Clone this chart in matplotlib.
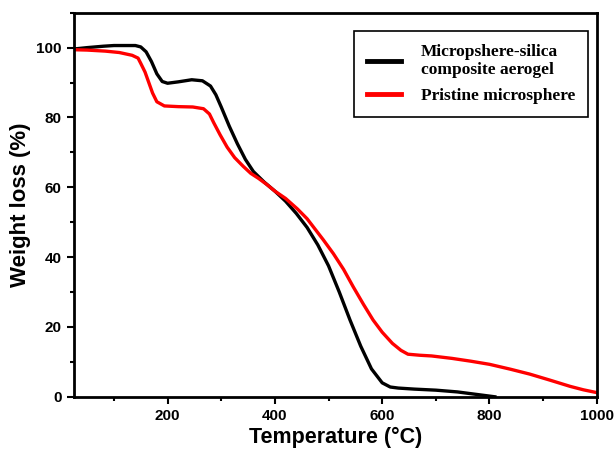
import matplotlib.pyplot as plt
from matplotlib.ticker import MultipleLocator

# composite aerogel (black)
temp_a = [25, 50, 80, 100, 140, 150, 160, 170, 180, 190, 200, 220, 245, 265, 280,
          290, 300, 315, 330, 345, 360, 380, 400, 420, 440, 460, 480, 500,
          520, 540, 560, 580, 600, 615, 630, 660, 700, 740, 770, 800, 810]
wt_a = [99.6, 100.0, 100.4, 100.6, 100.6, 100.2, 98.8, 96.0, 92.5, 90.3, 89.8, 90.2,
        90.8, 90.5, 89.0, 86.5, 83.0, 77.5, 72.5, 68.0, 64.5, 61.5, 58.9, 56.0,
        52.5, 48.5, 43.5, 37.5, 30.0, 22.0, 14.5, 8.0, 4.0, 2.8, 2.5, 2.2, 1.9,
        1.4, 0.8, 0.2, 0.0]

# pristine microsphere (red)
temp_b = [25, 50, 84, 110, 134, 145, 150, 158, 165, 172, 180, 194, 220, 247, 267,
          278, 286, 298, 311, 325, 341, 355, 370, 385, 400, 420, 442, 460, 471,
          490, 509, 528, 546, 565, 583, 600, 619, 635, 648, 670, 692, 730, 765,
          800, 839, 875, 912, 950, 975, 1000]
wt_b = [99.4, 99.3, 99.0, 98.6, 97.8, 97.0, 95.5, 93.0, 90.0, 87.0, 84.5, 83.3,
        83.1, 83.0, 82.5, 81.0, 78.5, 75.0, 71.5, 68.5, 66.0, 64.0, 62.5, 60.8,
        58.9, 56.8, 53.8, 51.0, 48.8, 45.0, 41.0, 36.5, 31.5, 26.5, 22.0, 18.5,
        15.3, 13.3, 12.2, 11.9, 11.7, 11.0, 10.2, 9.3, 7.9, 6.5, 4.8, 3.0, 2.0, 1.2]

labels = ["Micropshere-silica\ncomposite aerogel", "Pristine microsphere"]

fig = plt.figure(figsize=(6.14, 4.54), dpi=100)
ax = fig.add_axes([0.12, 0.126, 0.852, 0.846])

ax.plot(temp_a, wt_a, color="black", lw=2.4, label=labels[0])
ax.plot(temp_b, wt_b, color="#ff0000", lw=2.4, label=labels[1])

ax.set_xlim(25, 1000)
ax.set_ylim(0, 110)
ax.xaxis.set_major_locator(MultipleLocator(200))
ax.xaxis.set_minor_locator(MultipleLocator(100))
ax.yaxis.set_minor_locator(MultipleLocator(10))
ax.set_yticks([0, 20, 40, 60, 80, 100])
ax.tick_params(which="major", length=5, width=1.5, direction="out")
ax.tick_params(which="minor", length=3, width=1.5, direction="out")
for lab in ax.get_xticklabels() + ax.get_yticklabels():
    lab.set_fontweight("bold")
    lab.set_fontsize(11)
    lab.set_family("Liberation Sans")
for s in ax.spines.values():
    s.set_linewidth(2)

ax.set_xlabel("Temperature (°C)", fontsize=15.5, fontweight="bold",
              family="Liberation Sans", labelpad=3)
ax.set_ylabel("Weight loss (%)", fontsize=16, fontweight="bold",
              family="Liberation Sans", labelpad=4)

leg = ax.legend(loc="upper right", bbox_to_anchor=(0.983, 0.953), fancybox=False,
                edgecolor="black", framealpha=1, handlelength=2.0,
                prop={"family": "Liberation Serif", "weight": "bold", "size": 12.5},
                borderpad=0.75, labelspacing=0.55, handletextpad=1.1,
                borderaxespad=0)
leg.get_frame().set_linewidth(1.2)
for h in leg.get_lines():
    h.set_linewidth(3.5)

fig.savefig("out.png", dpi=100)
